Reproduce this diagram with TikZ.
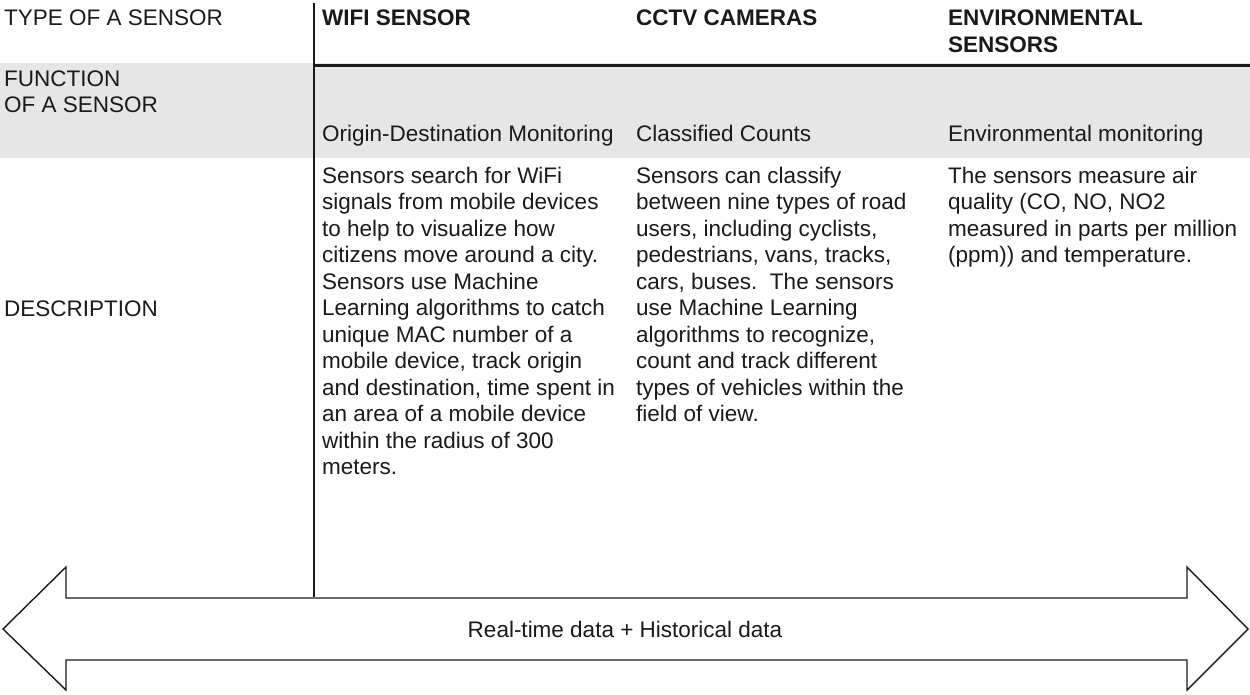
\documentclass[tikz,border=0pt]{standalone}
\usepackage{fontspec}
\setmainfont{Liberation Sans}
\definecolor{band}{HTML}{E6E6E6}
\definecolor{ink}{HTML}{1A1A1A}
\tikzset{
  txt/.style={anchor=base west, inner sep=0pt, align=left, text=ink,
    font=\fontsize{22.5}{26.5}\selectfont},
  hdr/.style={txt, font=\fontsize{22.5}{26.5}\selectfont\bfseries},
  rule/.style={draw=ink, line width=2pt},
  bigarrow/.style={draw=ink, line width=1.4pt, fill=white, line join=miter}
}
\begin{document}
\begin{tikzpicture}[x=1pt,y=-1pt]
\useasboundingbox (0,0) rectangle (1250,694);
% gray band
\fill[band] (0,63) rectangle (1250,158);
% lines
\coordinate (vtop) at (314,3);
\coordinate (vbot) at (314,597);
\coordinate (hl) at (314,65);
\coordinate (hr) at (1250,65);
\draw[rule] (vtop) -- (vbot);
\draw[draw=ink, line width=3pt] (hl) -- (hr);
% header row (multi-line nodes are placed at the baseline of their last line)
\node[txt] (type) at (4,25) {TYPE OF A SENSOR};
\node[hdr] (wifi) at (322,25) {WIFI SENSOR};
\node[hdr] (cctv) at (636,25) {CCTV CAMERAS};
\node[hdr] (env) at (948,52) {ENVIRONMENTAL\\SENSORS};
% function row
\node[txt] (func) at (4,112.5) {FUNCTION\\OF A SENSOR};
\node[txt] (fwifi) at (322,141) {Origin-Destination Monitoring};
\node[txt] (fcctv) at (636,141) {Classified Counts};
\node[txt] (fenv) at (948,141) {Environmental monitoring};
% description row
\node[txt] (desc) at (4,316) {DESCRIPTION};
\node[txt] (dwifi) at (322,474.5) {Sensors search for WiFi\\signals from mobile devices\\to help to visualize how\\citizens move around a city.\\Sensors use Machine\\Learning algorithms to catch\\unique MAC number of a\\mobile device, track origin\\and destination, time spent in\\an area of a mobile device\\within the radius of 300\\meters.};
\node[txt] (dcctv) at (636,421.5) {Sensors can classify\\between nine types of road\\users, including cyclists,\\pedestrians, vans, tracks,\\cars, buses.\ \ The sensors\\use Machine Learning\\algorithms to recognize,\\count and track different\\types of vehicles within the\\field of view.};
\node[txt] (denv) at (948,262.5) {The sensors measure air\\quality (CO, NO, NO2\\measured in parts per million\\(ppm)) and temperature.};
% double arrow
\draw[bigarrow] (3,629) -- (66,567) -- (66,598) -- (1187,598) -- (1187,567) -- (1248,629)
  -- (1187,690) -- (1187,660) -- (66,660) -- (66,690) -- cycle;
\node[txt, anchor=base] (arrowlbl) at (625,637) {Real-time data + Historical data};
\end{tikzpicture}
\end{document}
